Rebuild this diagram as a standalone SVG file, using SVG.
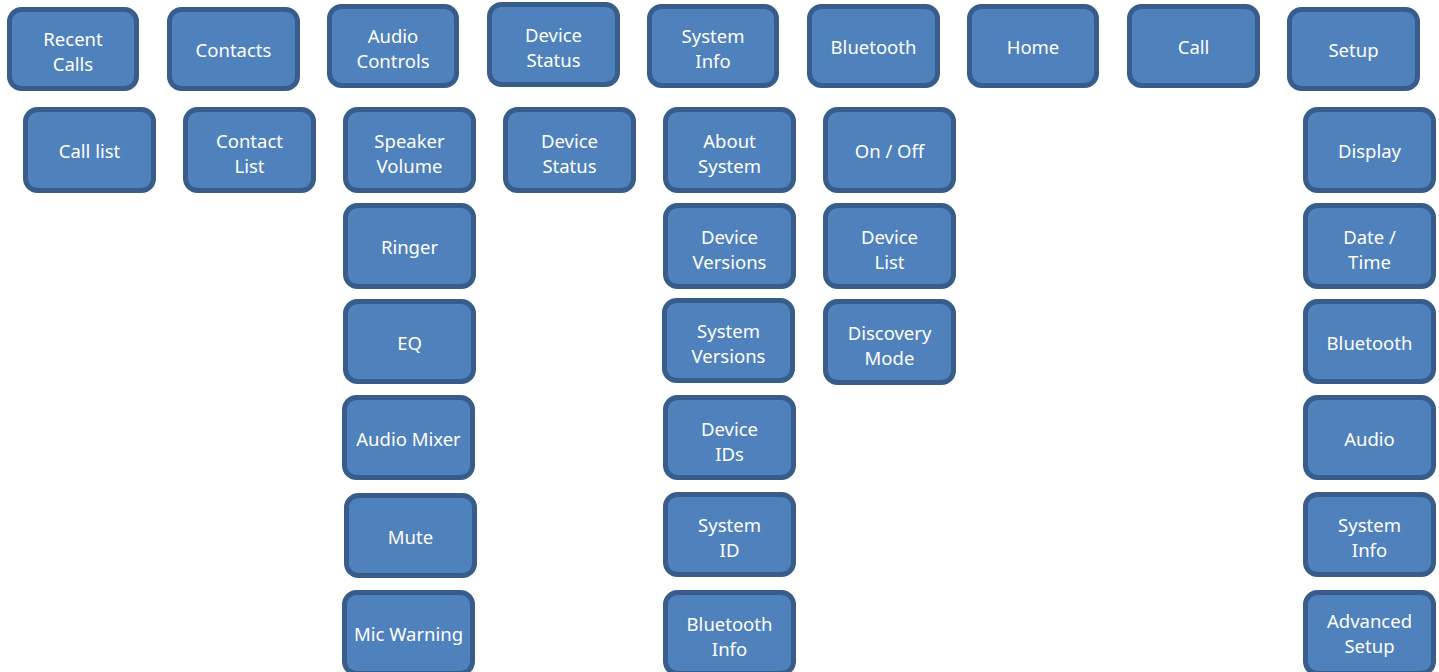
<svg xmlns="http://www.w3.org/2000/svg" width="1439" height="672" viewBox="0 0 1439 672">
<style>
.box{fill:#4F81BD;stroke:#385D8A;stroke-width:5}
.t{font-family:"Noto Sans","Open Sans",sans-serif;font-size:18.5px;fill:#FFFFFF;text-anchor:middle;dominant-baseline:central}
</style>
<rect x="0" y="0" width="1439" height="672" fill="#FFFFFF"/>
<g id="connectors"/>
<g id="recent-calls"><rect class="box" x="9.5" y="9.5" width="127" height="79" rx="12"/><text class="t" x="73" y="38">Recent</text><text class="t" x="73" y="63">Calls</text></g>
<g id="contacts"><rect class="box" x="169.5" y="9.5" width="128" height="79" rx="12"/><text class="t" x="233.5" y="49">Contacts</text></g>
<g id="audio-controls"><rect class="box" x="329.5" y="6.5" width="127" height="79" rx="12"/><text class="t" x="393" y="35">Audio</text><text class="t" x="393" y="60">Controls</text></g>
<g id="device-status-top"><rect class="box" x="489.5" y="4.5" width="128" height="80" rx="12"/><text class="t" x="553.5" y="34">Device</text><text class="t" x="553.5" y="59">Status</text></g>
<g id="system-info-top"><rect class="box" x="649.5" y="6.5" width="127" height="79" rx="12"/><text class="t" x="713" y="35">System</text><text class="t" x="713" y="60">Info</text></g>
<g id="bluetooth-top"><rect class="box" x="809.5" y="6.5" width="128" height="79" rx="12"/><text class="t" x="873.5" y="46">Bluetooth</text></g>
<g id="home"><rect class="box" x="969.5" y="6.5" width="127" height="79" rx="12"/><text class="t" x="1033" y="46">Home</text></g>
<g id="call"><rect class="box" x="1129.5" y="6.5" width="128" height="79" rx="12"/><text class="t" x="1193.5" y="46">Call</text></g>
<g id="setup"><rect class="box" x="1289.5" y="9.5" width="128" height="79" rx="12"/><text class="t" x="1353.5" y="49">Setup</text></g>

<g id="call-list"><rect class="box" x="25.5" y="109.5" width="128" height="81" rx="12"/><text class="t" x="89.5" y="150">Call list</text></g>
<g id="contact-list"><rect class="box" x="185.5" y="109.5" width="128" height="81" rx="12"/><text class="t" x="249.5" y="140">Contact</text><text class="t" x="249.5" y="165">List</text></g>
<g id="speaker-volume"><rect class="box" x="345.5" y="109.5" width="128" height="81" rx="12"/><text class="t" x="409.5" y="140">Speaker</text><text class="t" x="409.5" y="165">Volume</text></g>
<g id="device-status"><rect class="box" x="505.5" y="109.5" width="128" height="81" rx="12"/><text class="t" x="569.5" y="140">Device</text><text class="t" x="569.5" y="165">Status</text></g>
<g id="about-system"><rect class="box" x="665.5" y="109.5" width="128" height="81" rx="12"/><text class="t" x="729.5" y="140">About</text><text class="t" x="729.5" y="165">System</text></g>
<g id="on-off"><rect class="box" x="825.5" y="109.5" width="128" height="81" rx="12"/><text class="t" x="889.5" y="150">On / Off</text></g>
<g id="display"><rect class="box" x="1305.5" y="109.5" width="128" height="81" rx="12"/><text class="t" x="1369.5" y="150">Display</text></g>

<g id="ringer"><rect class="box" x="345.5" y="205.5" width="128" height="81" rx="12"/><text class="t" x="409.5" y="246">Ringer</text></g>
<g id="device-versions"><rect class="box" x="665.5" y="205.5" width="128" height="81" rx="12"/><text class="t" x="729.5" y="236">Device</text><text class="t" x="729.5" y="261">Versions</text></g>
<g id="device-list"><rect class="box" x="825.5" y="205.5" width="128" height="81" rx="12"/><text class="t" x="889.5" y="236">Device</text><text class="t" x="889.5" y="261">List</text></g>
<g id="date-time"><rect class="box" x="1305.5" y="205.5" width="128" height="81" rx="12"/><text class="t" x="1369.5" y="236">Date /</text><text class="t" x="1369.5" y="261">Time</text></g>

<g id="eq"><rect class="box" x="345.5" y="301.5" width="128" height="80" rx="12"/><text class="t" x="409.5" y="342">EQ</text></g>
<g id="system-versions"><rect class="box" x="664.5" y="300.5" width="128" height="80" rx="12"/><text class="t" x="728.5" y="330">System</text><text class="t" x="728.5" y="355">Versions</text></g>
<g id="discovery-mode"><rect class="box" x="825.5" y="301.5" width="128" height="81" rx="12"/><text class="t" x="889.5" y="332">Discovery</text><text class="t" x="889.5" y="357">Mode</text></g>
<g id="bluetooth-setup"><rect class="box" x="1305.5" y="301.5" width="128" height="80" rx="12"/><text class="t" x="1369.5" y="342">Bluetooth</text></g>

<g id="audio-mixer"><rect class="box" x="344.5" y="397.5" width="128" height="80" rx="12"/><text class="t" x="408.5" y="438">Audio Mixer</text></g>
<g id="device-ids"><rect class="box" x="665.5" y="397.5" width="128" height="80" rx="12"/><text class="t" x="729.5" y="428">Device</text><text class="t" x="729.5" y="453">IDs</text></g>
<g id="audio"><rect class="box" x="1305.5" y="397.5" width="128" height="80" rx="12"/><text class="t" x="1369.5" y="438">Audio</text></g>

<g id="mute"><rect class="box" x="346.5" y="495.5" width="128" height="80" rx="12"/><text class="t" x="410.5" y="536">Mute</text></g>
<g id="system-id"><rect class="box" x="665.5" y="494.5" width="128" height="80" rx="12"/><text class="t" x="729.5" y="524">System</text><text class="t" x="729.5" y="549">ID</text></g>
<g id="system-info-setup"><rect class="box" x="1305.5" y="494.5" width="128" height="80" rx="12"/><text class="t" x="1369.5" y="524">System</text><text class="t" x="1369.5" y="549">Info</text></g>

<g id="mic-warning"><rect class="box" x="344.5" y="592.5" width="128" height="81" rx="12"/><text class="t" x="408.5" y="633">Mic Warning</text></g>
<g id="bluetooth-info"><rect class="box" x="665.5" y="592.5" width="128" height="81" rx="12"/><text class="t" x="729.5" y="623">Bluetooth</text><text class="t" x="729.5" y="648">Info</text></g>
<g id="advanced-setup"><rect class="box" x="1305.5" y="592.5" width="128" height="81" rx="12"/><text class="t" x="1369.5" y="620">Advanced</text><text class="t" x="1369.5" y="645">Setup</text></g>
</svg>
